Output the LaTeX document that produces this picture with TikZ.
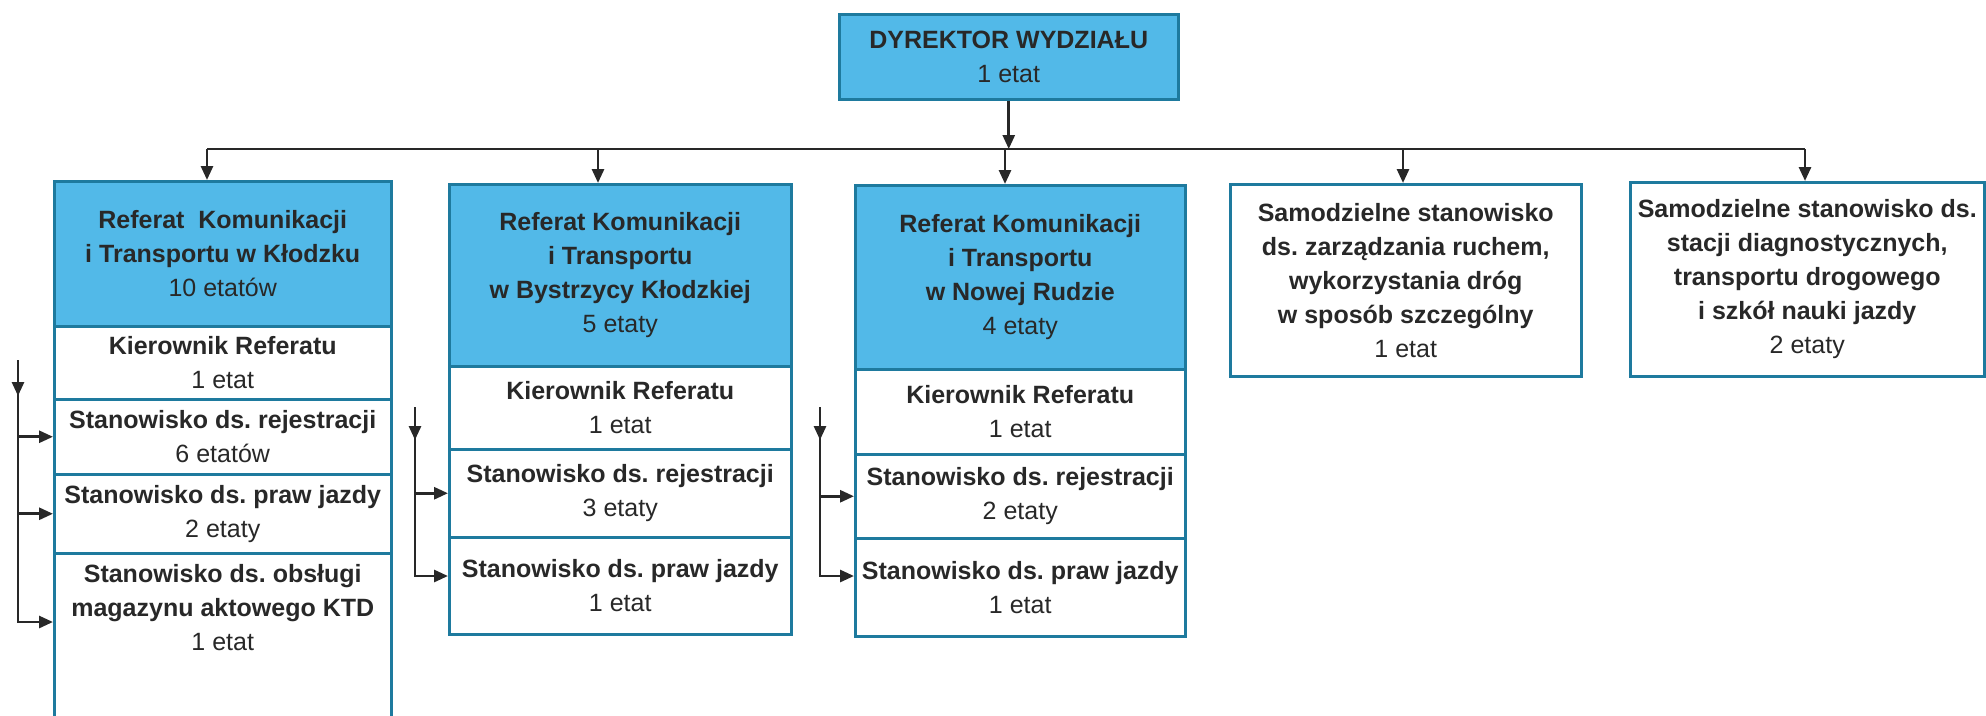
\documentclass[tikz,border=0pt]{standalone}
\usepackage{fontspec}
\setmainfont{Liberation Sans}
\usetikzlibrary{arrows.meta}
\definecolor{hblue}{RGB}{82,185,232}
\definecolor{bord}{RGB}{30,122,158}
\definecolor{ink}{RGB}{40,40,40}
\newcommand{\fs}{\fontsize{25pt}{34pt}\selectfont\frenchspacing}
\tikzset{
  cell/.style={draw=bord, line width=2.5pt, fill=white, inner sep=0pt, anchor=north west, text=ink, align=center, font=\fs},
  head/.style={cell, fill=hblue},
  txt/.style={inner sep=0pt, text=ink, align=center, font=\fs},
  conn/.style={draw=ink, line width=2.8pt},
  arr/.style={conn, -{Triangle[length=14pt,width=12pt]}},
}
\begin{document}
\begin{tikzpicture}[x=1pt,y=-1pt]
\useasboundingbox (0,0) rectangle (1986,715);
% director
\node[head, minimum width=339, minimum height=85] (dyr) at (838,13) {\textbf{DYREKTOR WYDZIAŁU}\\1 etat};
% box 1
\node[head, minimum width=337, minimum height=145] (h1) at (53,180) {\textbf{Referat~ Komunikacji}\\\textbf{i Transportu w Kłodzku}\\10 etatów};
\node[cell, minimum width=337, minimum height=73] (k1) at (53,325) {\textbf{Kierownik Referatu}\\1 etat};
\node[cell, minimum width=337, minimum height=75] (r1) at (53,398) {\textbf{Stanowisko ds. rejestracji}\\6 etatów};
\node[cell, minimum width=337, minimum height=79] (p1) at (53,473) {\textbf{Stanowisko ds. praw jazdy}\\2 etaty};
\node[cell, minimum width=337, minimum height=180] (o1) at (53,552) {};
\node[txt, anchor=north] (o1t) at ([yshift=-12pt]o1.north) {\textbf{Stanowisko ds. obsługi}\\\textbf{magazynu aktowego KTD}\\1 etat};
% box 2
\node[head, minimum width=342, minimum height=182] (h2) at (448,183) {\textbf{Referat Komunikacji}\\\textbf{i Transportu}\\\textbf{w Bystrzycy Kłodzkiej}\\5 etaty};
\node[cell, minimum width=342, minimum height=83] (k2) at (448,365) {\textbf{Kierownik Referatu}\\1 etat};
\node[cell, minimum width=342, minimum height=88] (r2) at (448,448) {\textbf{Stanowisko ds. rejestracji}\\3 etaty};
\node[cell, minimum width=342, minimum height=97] (p2) at (448,536) {\textbf{Stanowisko ds. praw jazdy}\\1 etat};
% box 3
\node[head, minimum width=330, minimum height=184] (h3) at (854,184) {\textbf{Referat Komunikacji}\\\textbf{i Transportu}\\\textbf{w Nowej Rudzie}\\4 etaty};
\node[cell, minimum width=330, minimum height=85] (k3) at (854,368) {\textbf{Kierownik Referatu}\\1 etat};
\node[cell, minimum width=330, minimum height=84] (r3) at (854,453) {\textbf{Stanowisko ds. rejestracji}\\2 etaty};
\node[cell, minimum width=330, minimum height=98] (p3) at (854,537) {\textbf{Stanowisko ds. praw jazdy}\\1 etat};
% box 4 and 5
\node[cell, minimum width=351, minimum height=192] (s4) at (1229,183) {\textbf{Samodzielne stanowisko}\\\textbf{ds. zarządzania ruchem,}\\\textbf{wykorzystania dróg}\\\textbf{w sposób szczególny}\\1 etat};
\node[cell, minimum width=354, minimum height=194] (s5) at (1629,181) {\textbf{Samodzielne stanowisko ds.}\\\textbf{stacji diagnostycznych,}\\\textbf{transportu drogowego}\\\textbf{i szkół nauki jazdy}\\2 etaty};
% bus
\coordinate (busL) at (207,149);
\coordinate (busR) at (1805,149);
\coordinate (t2) at (598,149);
\coordinate (t3) at (1005,149);
\coordinate (t4) at (1403,149);
\draw[conn] (busL) -- (busR);
\draw[arr] (dyr.south) -- (dyr.south |- busL);
\draw[arr] (busL) -- (busL |- h1.north);
\draw[arr] (t2) -- (t2 |- h2.north);
\draw[arr] (t3) -- (t3 |- h3.north);
\draw[arr] (t4) -- (t4 |- s4.north);
\draw[arr] (busR) -- (busR |- s5.north);
% bracket 1
\coordinate (v1t) at (18,360);
\coordinate (v1b) at (18,622);
\draw[arr] (v1t) -- (v1b) -- (v1b -| o1.west);
\draw[arr] (v1t) -- ++(0,36);
\draw[arr] (v1t |- r1.west) -- (r1.west);
\draw[arr] (v1t |- p1.west) -- (p1.west);
% bracket 2
\coordinate (v2t) at (415,407);
\coordinate (v2b) at (415,576);
\draw[arr] (v2t) -- (v2b) -- (v2b -| p2.west);
\draw[arr] (v2t) -- ++(0,33);
\draw[arr] (v2t |- r2.west) -- (r2.west);
% bracket 3
\coordinate (v3t) at (820,407);
\coordinate (v3b) at (820,576);
\draw[arr] (v3t) -- (v3b) -- (v3b -| p3.west);
\draw[arr] (v3t) -- ++(0,33);
\draw[arr] (v3t |- r3.west) -- (r3.west);
\end{tikzpicture}
\end{document}
